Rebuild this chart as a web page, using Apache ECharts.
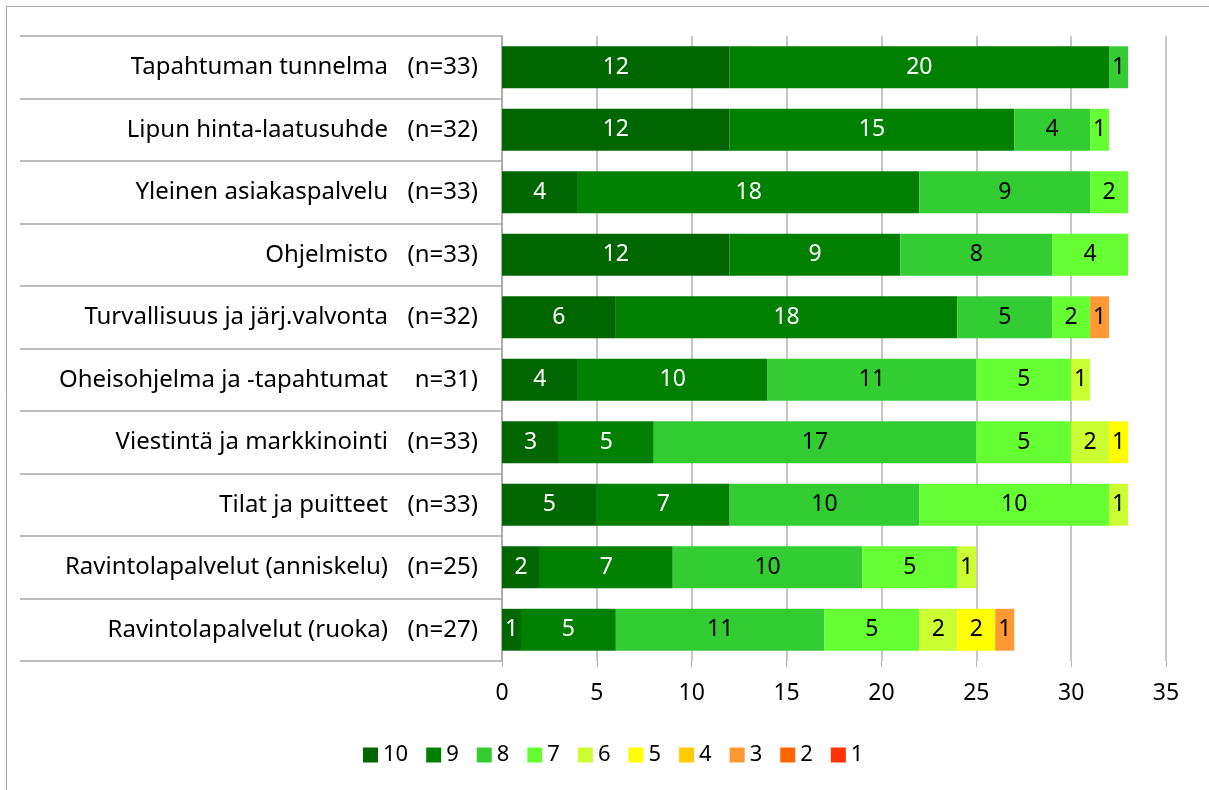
<!DOCTYPE html>
<html>
<head>
<meta charset="utf-8">
<script src="https://cdn.jsdelivr.net/npm/echarts@6/dist/echarts.min.js"></script>
<style>
  html, body { margin: 0; padding: 0; background: #fff; }
  #container { width: 1209px; height: 790px; }
</style>
</head>
<body>
<div id="container"></div>
<script>
  var dom = document.getElementById('container');
  var myChart = echarts.init(dom, null, { renderer: 'canvas' });

  // categories top to bottom
  var categories = [
    'Tapahtuman tunnelma',
    'Lipun hinta-laatusuhde',
    'Yleinen asiakaspalvelu',
    'Ohjelmisto',
    'Turvallisuus ja järj.valvonta',
    'Oheisohjelma ja -tapahtumat',
    'Viestintä ja markkinointi',
    'Tilat ja puitteet',
    'Ravintolapalvelut (anniskelu)',
    'Ravintolapalvelut (ruoka)'
  ];
  var nLabels = ['(n=33)', '(n=32)', '(n=33)', '(n=33)', '(n=32)', 'n=31)', '(n=33)', '(n=33)', '(n=25)', '(n=27)'];

  var scoreNames = ['10', '9', '8', '7', '6', '5', '4', '3', '2', '1'];
  var scoreColors = ['#006600', '#008000', '#33cc33', '#66ff33', '#ccff33', '#ffff00', '#ffcc00', '#ff9933', '#ff6600', '#ff3300'];

  // counts per score, one value per category
  var s10 = [12, 12, 4, 12, 6, 4, 3, 5, 2, 1];
  var s9  = [20, 15, 18, 9, 18, 10, 5, 7, 7, 5];
  var s8  = [1, 4, 9, 8, 5, 11, 17, 10, 10, 11];
  var s7  = [0, 1, 2, 4, 2, 5, 5, 10, 5, 5];
  var s6  = [0, 0, 0, 0, 0, 1, 2, 1, 1, 2];
  var s5  = [0, 0, 0, 0, 0, 0, 1, 0, 0, 2];
  var s4  = [0, 0, 0, 0, 0, 0, 0, 0, 0, 0];
  var s3  = [0, 0, 0, 0, 1, 0, 0, 0, 0, 1];
  var s2  = [0, 0, 0, 0, 0, 0, 0, 0, 0, 0];
  var s1  = [0, 0, 0, 0, 0, 0, 0, 0, 0, 0];
  var seriesValues = [s10, s9, s8, s7, s6, s5, s4, s3, s2, s1];

  var font = 'Noto Sans';
  var gridLine = '#b3b3b3';

  var series = scoreNames.map(function (name, i) {
    return {
      name: name,
      type: 'bar',
      stack: 'total',
      xAxisIndex: 1,
      yAxisIndex: 1,
      barCategoryGap: '33%',
      itemStyle: { color: scoreColors[i] },
      label: {
        show: true,
        position: 'inside',
        fontFamily: font,
        fontSize: 23,
        color: i < 2 ? '#ffffff' : '#000000',
        formatter: function (p) { return p.value > 0 ? p.value : ''; }
      },
      data: seriesValues[i].map(function (v) { return v > 0 ? v : null; })
    };
  });

  var option = {
    animation: false,
    textStyle: { fontFamily: font },
    graphic: [{
      type: 'rect',
      shape: { x: 6.5, y: 6.5, width: 1220, height: 800 },
      style: { fill: 'none', stroke: '#a6a6a6', lineWidth: 1 }
    }],
    legend: {
      data: scoreNames,
      left: 358,
      top: 739,
      itemWidth: 15,
      itemHeight: 15,
      itemGap: 18,
      icon: 'rect',
      textStyle: { fontFamily: font, fontSize: 22, color: '#000' }
    },
    grid: [
      { left: 20, top: 36, width: 482, height: 625 },
      { left: 502, top: 36, width: 664, height: 625 }
    ],
    xAxis: [
      { gridIndex: 0, type: 'value', show: false, min: 0, max: 1 },
      {
        gridIndex: 1,
        type: 'value',
        min: 0,
        max: 35,
        interval: 5,
        axisLine: { show: false },
        axisTick: { show: true, length: 6, lineStyle: { color: gridLine } },
        axisLabel: { fontFamily: font, fontSize: 23, color: '#000', margin: 21 },
        splitLine: { show: true, lineStyle: { color: gridLine, width: 1.5 } }
      }
    ],
    yAxis: [
      {
        gridIndex: 0,
        type: 'category',
        inverse: true,
        data: categories,
        axisLine: { show: false },
        axisTick: { show: false },
        axisLabel: { show: false },
        splitLine: { show: true, lineStyle: { color: '#a6a6a6', width: 1.5 } }
      },
      {
        gridIndex: 1,
        type: 'category',
        inverse: true,
        data: categories,
        axisLine: { show: true, lineStyle: { color: '#a6a6a6', width: 1.5 } },
        axisTick: { show: false },
        axisLabel: {
          margin: 24,
          formatter: function (value, idx) {
            return '{a|' + value + '}{b|' + nLabels[idx] + '}';
          },
          rich: {
            a: { fontFamily: font, fontSize: 24, color: '#000', padding: [0, 16, 0, 0] },
            b: { fontFamily: font, fontSize: 24, color: '#000', width: 74, align: 'right' }
          }
        }
      }
    ],
    series: series
  };

  myChart.setOption(option);
  window.addEventListener('resize', myChart.resize);
</script>
</body>
</html>
